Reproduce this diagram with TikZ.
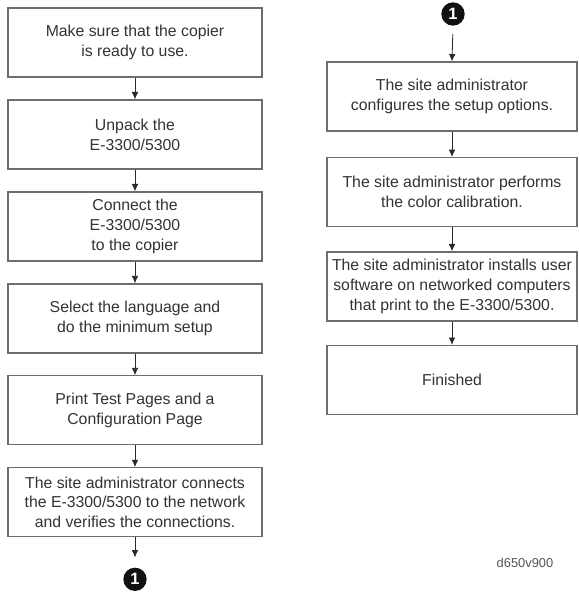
\documentclass[tikz,border=0pt]{standalone}
\usepackage{fontspec}
\setmainfont{Liberation Sans}
\usetikzlibrary{arrows.meta, positioning}
\definecolor{boxline}{HTML}{6E6E6E}
\definecolor{textgray}{HTML}{333333}
\definecolor{arrowdark}{HTML}{2A2A2A}
\definecolor{badgeblack}{HTML}{111111}
\definecolor{notegray}{HTML}{555555}

\begin{document}
\begin{tikzpicture}[
    % ── Node styles ──────────────────────────────────────────────────────
    stepbox/.style={
        draw=boxline, line width=1.1pt, fill=white,
        minimum width=7.62cm, minimum height=2.07cm,
        font=\fontsize{13.5}{17}\selectfont,
        text=textgray, align=center, inner sep=3pt
    },
    rightbox/.style={
        stepbox, minimum width=7.5cm
    },
    badge/.style={
        circle, fill=badgeblack, minimum size=0.7cm, inner sep=0pt,
        font=\fontsize{14}{14}\selectfont\bfseries, text=white
    },
    notelabel/.style={
        font=\fontsize{11}{13}\selectfont, text=notegray
    },
    % ── Arrow style ──────────────────────────────────────────────────────
    arr/.style={
        -{Latex[length=2.2mm, width=2mm]},
        line width=0.7pt, color=arrowdark
    }
]
\useasboundingbox (0,0) rectangle (17.34,-17.79);

% ═══════════════════════════════════════════════════════════════════════════
% 1. Left column: preparation steps
% ═══════════════════════════════════════════════════════════════════════════
\node[stepbox] (ready) at (4.05,-1.275)
    {Make sure that the copier\\is ready to use.};
\node[stepbox, below=0.65cm of ready] (unpack)
    {Unpack the\\E-3300/5300};
\node[stepbox, below=0.65cm of unpack] (connect)
    {Connect the\\E-3300/5300\\to the copier};
\node[stepbox, below=0.65cm of connect] (language)
    {Select the language and\\do the minimum setup};
\node[stepbox, below=0.65cm of language] (testpages)
    {Print Test Pages and a\\Configuration Page};
\node[stepbox, below=0.65cm of testpages] (network)
    {The site administrator connects\\the E-3300/5300 to the network\\and verifies the connections.};

% Continuation marker
\node[badge, below=0.9cm of network] (contout) {1};

\draw[arr] (ready.south)     -- (unpack.north);
\draw[arr] (unpack.south)    -- (connect.north);
\draw[arr] (connect.south)   -- (language.north);
\draw[arr] (language.south)  -- (testpages.north);
\draw[arr] (testpages.south) -- (network.north);
\draw[arr, shorten >=0.3cm] (network.south) -- (contout.north);

% ═══════════════════════════════════════════════════════════════════════════
% 2. Right column: administrator steps
% ═══════════════════════════════════════════════════════════════════════════
\node[badge] (contin) at (13.59,-0.42) {1};

\node[rightbox] (options) at (13.56,-2.895)
    {The site administrator\\configures the setup options.};
\node[rightbox, below=0.76cm of options] (calib)
    {The site administrator performs\\the color calibration.};
\node[rightbox, below=0.72cm of calib] (software)
    {The site administrator installs user\\software on networked computers\\that print to the E-3300/5300.};
\node[rightbox, below=0.7cm of software] (finished)
    {Finished};

\draw[arr, shorten <=0.25cm] (contin.south) -- (options.north);
\draw[arr] (options.south)  -- (calib.north);
\draw[arr] (calib.south)    -- (software.north);
\draw[arr] (software.south) -- (finished.north);

% Figure code
\node[notelabel] (figcode) at (15.75,-16.89) {d650v900};

\end{tikzpicture}
\end{document}
